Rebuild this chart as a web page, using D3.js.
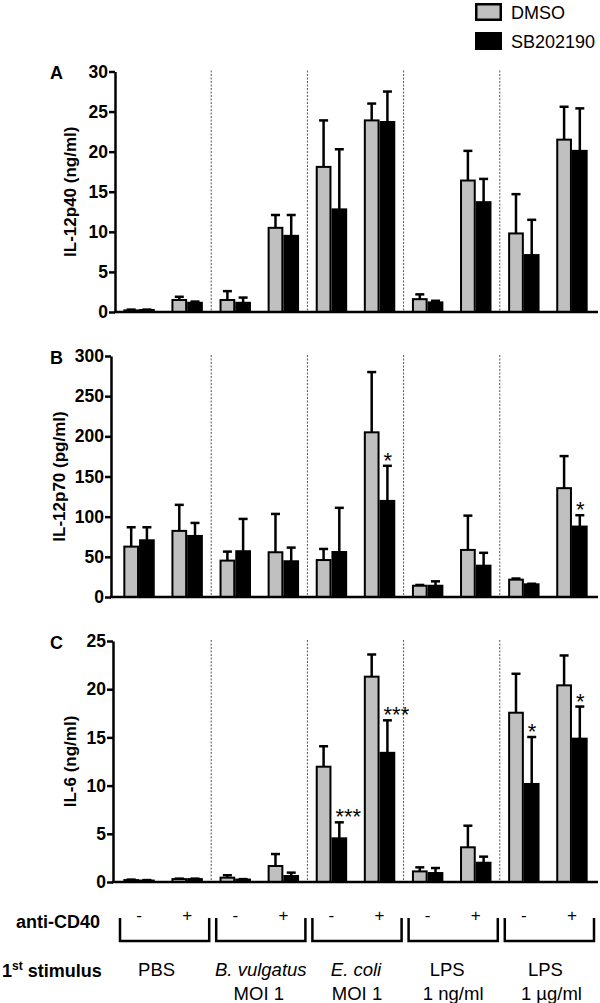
<!DOCTYPE html>
<html><head><meta charset="utf-8">
<script src="https://cdn.jsdelivr.net/npm/d3@7"></script>
<style>
body{margin:0;background:#fff}
text{font-family:"Liberation Sans",Arial,sans-serif;fill:#000}
</style>
</head><body>
<svg id="chart" width="600" height="1003"></svg>
<script>
// ---------- data ----------
const categories = ["PBS -","PBS +","Bv -","Bv +","Ec -","Ec +","LPS1 -","LPS1 +","LPS2 -","LPS2 +"];
const seriesNames = ["DMSO","SB202190"];
const antiCD40 = ["-","+","-","+","-","+","-","+","-","+"];
const stimulusLabels = [["PBS"],["B. vulgatus","MOI 1"],["E. coli","MOI 1"],["LPS","1 ng/ml"],["LPS","1 µg/ml"]];

const il12p40Ticks = [0,5,10,15,20,25,30];
const il12p40Dmso   = [0.2,1.5,1.5,10.5,18.1,23.9,1.6,16.4,9.8,21.5];
const il12p40DmsoSd = [0.1,0.4,1.1,1.6,5.8,2.1,0.6,3.7,4.9,4.1];
const il12p40Sb     = [0.25,1.15,1.15,9.5,12.8,23.7,1.2,13.7,7.1,20.1];
const il12p40SbSd   = [0.05,0.15,0.65,2.6,7.5,3.8,0.2,2.9,4.4,5.3];
const il12p40Sig    = ["","","","","","","","","",""];

const il12p70Ticks = [0,50,100,150,200,250,300];
const il12p70Dmso   = [62.7,82.3,45.3,55.7,46,205,14,58.6,21.6,135.5];
const il12p70DmsoSd = [24.1,32.4,11.2,47.7,13.8,75,1,42.7,1.4,39.9];
const il12p70Sb     = [70.6,76,57,44.5,56,119.6,14,39,15.8,87.7];
const il12p70SbSd   = [16.2,16.2,40.2,17,55,43.7,5.5,16,0.7,14.1];
const il12p70Sig    = ["","","","","","*","","","","*"];

const il6Ticks = [0,5,10,15,20,25];
const il6Dmso   = [0.2,0.3,0.45,1.66,11.96,21.3,1.1,3.6,17.56,20.4];
const il6DmsoSd = [0.05,0.05,0.25,1.24,2.12,2.3,0.42,2.24,4.04,3.1];
const il6Sb     = [0.15,0.3,0.25,0.62,4.53,13.4,0.93,2.0,10.17,14.87];
const il6SbSd   = [0.05,0.05,0.05,0.35,1.66,3.37,0.52,0.63,4.87,3.33];
const il6Sig    = ["","","","","***","***","","","*","*"];

// ---------- drawing ----------
const svg = d3.select("#chart");
const GRAY = "#c0c0c0";
const FONT = '"Liberation Sans",Arial,sans-serif';

const x0 = d3.scaleBand().domain(categories).range([115, 596]).padding(0);
const x1 = d3.scaleBand().domain(seriesNames).range([0, x0.bandwidth()]).paddingInner(0).paddingOuter(0.53);

const panels = [
  {letter:"A", label:"IL-12p40 (ng/ml)", ticks:il12p40Ticks, dmso:il12p40Dmso, dmsoSd:il12p40DmsoSd, sb:il12p40Sb, sbSd:il12p40SbSd, sig:il12p40Sig, top:71.5, bottom:312, axisX:115, labelX:76},
  {letter:"B", label:"IL-12p70 (pg/ml)", ticks:il12p70Ticks, dmso:il12p70Dmso, dmsoSd:il12p70DmsoSd, sb:il12p70Sb, sbSd:il12p70SbSd, sig:il12p70Sig, top:356, bottom:597, axisX:111, labelX:65},
  {letter:"C", label:"IL-6 (ng/ml)", ticks:il6Ticks, dmso:il6Dmso, dmsoSd:il6DmsoSd, sb:il6Sb, sbSd:il6SbSd, sig:il6Sig, top:641, bottom:882, axisX:113, labelX:76}
];

panels.forEach(p => {
  const g = svg.append("g");
  const y = d3.scaleLinear().domain([0, d3.max(p.ticks)]).range([p.bottom, p.top]);

  // dotted dividers
  [2,4,6,8].forEach(i => {
    const xx = x0(categories[i]);
    g.append("line").attr("x1", xx).attr("x2", xx).attr("y1", p.top - 1).attr("y2", p.bottom)
      .attr("stroke", "#555").attr("stroke-width", 1).attr("stroke-dasharray", "2,1.5");
  });

  // bars
  const rows = categories.map((c, i) => ({c, i}));
  const sets = [
    {name:"DMSO", vals:p.dmso, sd:p.dmsoSd, fill:GRAY},
    {name:"SB202190", vals:p.sb, sd:p.sbSd, fill:"#000"}
  ];
  sets.forEach(s => {
    rows.forEach(r => {
      const v = s.vals[r.i];
      const bx = x0(r.c) + x1(s.name);
      const bw = x1.bandwidth();
      const yTop = y(v);
      const cx = bx + bw / 2;
      const yErr = y(v + s.sd[r.i]);
      g.append("line").attr("x1", cx).attr("x2", cx).attr("y1", yTop).attr("y2", yErr)
        .attr("stroke", "#000").attr("stroke-width", 2.5);
      g.append("line").attr("x1", cx - 4.5).attr("x2", cx + 4.5).attr("y1", yErr).attr("y2", yErr)
        .attr("stroke", "#000").attr("stroke-width", 2.5);
      g.append("rect").attr("x", bx + 1).attr("y", yTop)
        .attr("width", bw - 2).attr("height", Math.max(0, p.bottom - yTop))
        .attr("fill", s.fill).attr("stroke", "#000").attr("stroke-width", 2);
    });
  });

  // significance
  rows.forEach(r => {
    const s = p.sig[r.i];
    if (!s) return;
    const bx = x0(r.c) + x1("SB202190");
    const yErr = y(p.sb[r.i] + p.sbSd[r.i]);
    g.append("text").attr("x", bx + 4).attr("y", yErr + 2)
      .attr("font-size", 22).attr("text-anchor", "start").text(s);
  });

  // y axis
  const yAxis = d3.axisLeft(y).tickValues(p.ticks).tickSize(6).tickPadding(1).tickSizeOuter(0);
  const ya = g.append("g").attr("transform", `translate(${p.axisX},0)`).call(yAxis);
  ya.select(".domain").attr("stroke", "#000").attr("stroke-width", 2.5);
  ya.selectAll(".tick line").attr("stroke", "#000").attr("stroke-width", 2.5);
  ya.selectAll(".tick text").attr("font-family", FONT).attr("font-size", 17.5).attr("font-weight", "bold").attr("fill", "#000");

  // x axis baseline
  g.append("line").attr("x1", p.axisX - 1).attr("x2", 598).attr("y1", p.bottom).attr("y2", p.bottom)
    .attr("stroke", "#000").attr("stroke-width", 2.5);

  // panel letter
  g.append("text").attr("x", 50).attr("y", p.top + 7.5).attr("font-size", 18).attr("font-weight", "bold").text(p.letter);

  // y label
  g.append("text").attr("transform", `translate(${p.labelX},${(p.top + p.bottom) / 2}) rotate(-90)`)
    .attr("text-anchor", "middle").attr("font-size", 17).attr("font-weight", "bold").text(p.label);
});

// legend
const legend = svg.append("g");
seriesNames.forEach((n, i) => {
  const yy = 3 + i * 29;
  legend.append("rect").attr("x", i === 0 ? 476.25 : 475).attr("y", i === 0 ? yy + 1.25 : yy)
    .attr("width", i === 0 ? 24.5 : 27).attr("height", i === 0 ? 15.5 : 18)
    .attr("fill", i === 0 ? GRAY : "#000").attr("stroke", "#000").attr("stroke-width", i === 0 ? 2.5 : 0);
  legend.append("text").attr("x", 511).attr("y", yy + 15.5).attr("font-size", 18).text(n);
});

// bottom annotation
const bot = svg.append("g");
bot.append("text").attr("x", 100).attr("y", 927.5).attr("text-anchor", "end")
  .attr("font-size", 18).attr("font-weight", "bold").text("anti-CD40");
categories.forEach((c, i) => {
  bot.append("text").attr("x", x0(c) + x0.bandwidth() / 2).attr("y", 921)
    .attr("text-anchor", "middle").attr("font-size", 17).text(antiCD40[i]);
});
const st = bot.append("text").attr("x", 2).attr("y", 977).attr("font-size", 18).attr("font-weight", "bold");
st.append("tspan").text("1");
st.append("tspan").attr("font-size", 12).attr("dy", -7).text("st");
st.append("tspan").attr("dy", 7).text(" stimulus");

const italicFirst = [false, true, true, false, false];
const lineShift = [[-8], [0, -2], [-1, 0], [-6, 0], [-4, 2]];
stimulusLabels.forEach((lines, gi) => {
  const left = x0(categories[gi * 2]);
  const right = left + 2 * x0.step();
  const bx1 = left + 5, bx2 = right - 2;
  bot.append("path").attr("d", `M${bx1},918 V941 H${bx2} V918`)
    .attr("fill", "none").attr("stroke", "#000").attr("stroke-width", 2.5);
  const cx = (bx1 + bx2) / 2;
  lines.forEach((t, li) => {
    bot.append("text").attr("x", cx + lineShift[gi][li]).attr("y", 976 + li * 23.5)
      .attr("text-anchor", "middle").attr("font-size", 18.5)
      .attr("font-style", li === 0 && italicFirst[gi] ? "italic" : "normal").text(t);
  });
});
</script>
</body></html>
